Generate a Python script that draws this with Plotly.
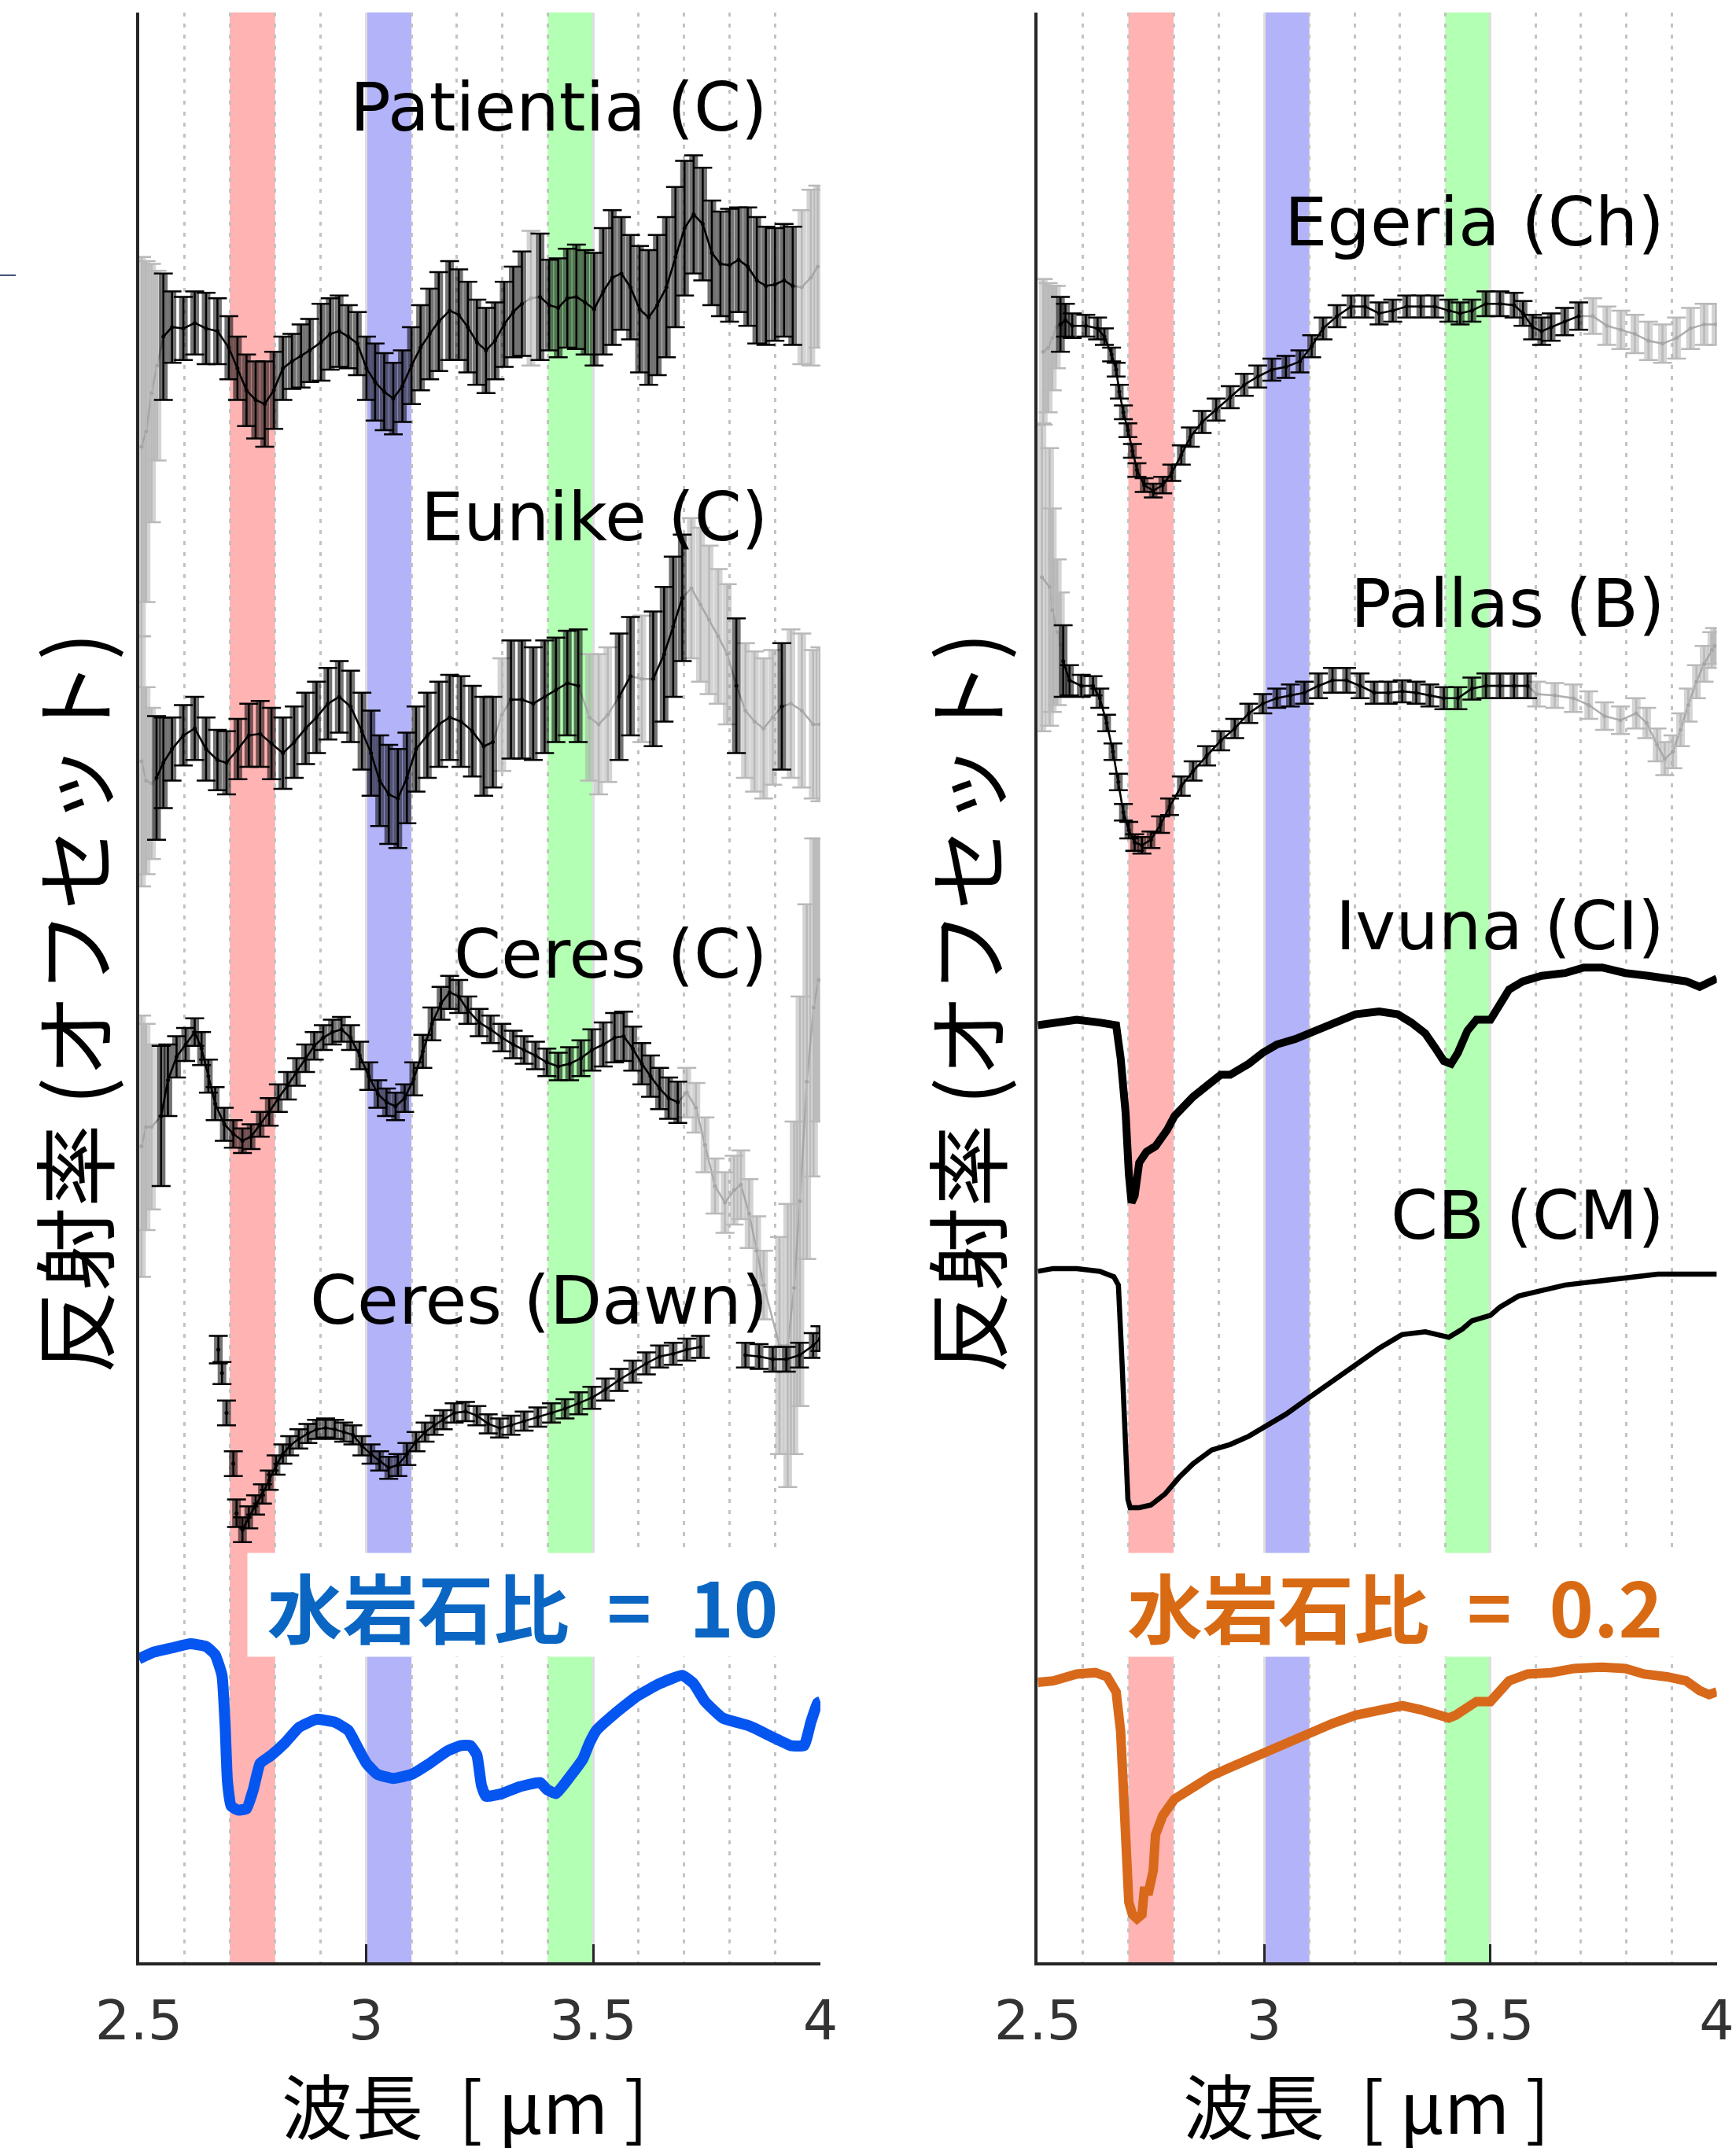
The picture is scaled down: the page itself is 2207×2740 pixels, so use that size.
import plotly.graph_objects as go

# ---------------- DATA (wavelength [um], offset reflectance [arb.], 1-sigma error, used flag 1/0) -------------
patientia_wl = [2.506, 2.516, 2.528, 2.540, 2.554, 2.573, 2.598, 2.623, 2.648, 2.673, 2.698, 2.717, 2.737, 2.757,
                2.777, 2.797, 2.817, 2.837, 2.857, 2.876, 2.901, 2.921, 2.941, 2.961, 2.981, 3.001, 3.020, 3.040,
                3.060, 3.080, 3.100, 3.120, 3.140, 3.160, 3.184, 3.204, 3.224, 3.244, 3.264, 3.284, 3.304, 3.324,
                3.343, 3.363, 3.383, 3.403, 3.423, 3.443, 3.463, 3.482, 3.502, 3.522, 3.542, 3.562, 3.582, 3.602,
                3.622, 3.641, 3.661, 3.681, 3.701, 3.721, 3.741, 3.761, 3.780, 3.800, 3.820, 3.840, 3.860, 3.880,
                3.900, 3.920, 3.939, 3.959, 3.979, 3.994]
patientia_val = [11.03, 11.14, 11.42, 11.62, 11.83, 11.90, 11.89, 11.93, 11.89, 11.87, 11.75, 11.60, 11.44, 11.37,
                 11.34, 11.44, 11.60, 11.65, 11.69, 11.73, 11.79, 11.85, 11.87, 11.83, 11.78, 11.60, 11.50, 11.43,
                 11.38, 11.47, 11.62, 11.75, 11.85, 11.94, 12.02, 11.99, 11.90, 11.79, 11.73, 11.80, 11.92, 12.01,
                 12.07, 12.11, 12.12, 12.06, 12.04, 12.11, 12.12, 12.08, 12.03, 12.16, 12.26, 12.29, 12.19, 12.03,
                 11.97, 12.06, 12.19, 12.41, 12.62, 12.72, 12.65, 12.44, 12.36, 12.35, 12.39, 12.34, 12.24, 12.20,
                 12.21, 12.24, 12.20, 12.19, 12.26, 12.34]
patientia_err = [1.38, 1.24, 0.94, 0.69, 0.46, 0.26, 0.23, 0.23, 0.26, 0.24, 0.23, 0.23, 0.26, 0.28,
                 0.31, 0.28, 0.23, 0.20, 0.23, 0.23, 0.28, 0.26, 0.26, 0.23, 0.23, 0.23, 0.28, 0.28,
                 0.26, 0.26, 0.28, 0.31, 0.33, 0.36, 0.36, 0.33, 0.33, 0.31, 0.31, 0.28, 0.31, 0.33,
                 0.38, 0.49, 0.46, 0.33, 0.36, 0.36, 0.38, 0.38, 0.41, 0.46, 0.49, 0.41, 0.38, 0.46,
                 0.49, 0.51, 0.51, 0.51, 0.49, 0.43, 0.41, 0.38, 0.38, 0.41, 0.38, 0.43, 0.46, 0.43,
                 0.41, 0.41, 0.43, 0.56, 0.64, 0.59]
patientia_ok = [0, 0, 0, 0, 1, 1, 1, 1, 1, 1, 1, 1, 1, 1, 1, 1, 1, 1, 1, 1, 1, 1, 1, 1, 1, 1, 1, 1, 1, 1, 1, 1, 1, 1,
                1, 1, 1, 1, 1, 1, 1, 1, 1, 0, 1, 1, 1, 1, 1, 1, 1, 1, 1, 1, 1, 1, 1, 1, 1, 1, 1, 1, 1, 1, 1, 1, 1, 1,
                1, 1, 1, 1, 1, 0, 0, 0]

eunike_wl = [2.506, 2.516, 2.528, 2.539, 2.554, 2.573, 2.598, 2.623, 2.648, 2.673, 2.693, 2.718, 2.742, 2.767,
             2.792, 2.817, 2.842, 2.867, 2.891, 2.916, 2.941, 2.966, 2.991, 3.011, 3.030, 3.050, 3.070, 3.090,
             3.110, 3.135, 3.160, 3.184, 3.209, 3.234, 3.259, 3.279, 3.299, 3.319, 3.343, 3.368, 3.393, 3.418,
             3.443, 3.467, 3.492, 3.512, 3.532, 3.557, 3.582, 3.607, 3.632, 3.656, 3.676, 3.696, 3.716, 3.736,
             3.755, 3.775, 3.795, 3.815, 3.835, 3.855, 3.875, 3.895, 3.915, 3.935, 3.959, 3.984, 3.999]
eunike_val = [8.74, 8.60, 8.58, 8.62, 8.73, 8.83, 8.93, 8.98, 8.83, 8.75, 8.73, 8.83, 8.93, 8.94,
              8.87, 8.80, 8.88, 8.98, 9.06, 9.16, 9.21, 9.14, 8.96, 8.80, 8.60, 8.50, 8.47, 8.62,
              8.83, 8.93, 9.01, 9.06, 9.03, 8.96, 8.85, 8.88, 9.08, 9.19, 9.19, 9.16, 9.21, 9.26,
              9.31, 9.29, 9.06, 9.01, 9.08, 9.21, 9.36, 9.34, 9.34, 9.52, 9.72, 9.93, 10.00, 9.88,
              9.77, 9.65, 9.52, 9.29, 9.11, 9.03, 8.98, 9.06, 9.14, 9.16, 9.11, 9.01, 9.01]
eunike_err = [0.91, 0.68, 0.55, 0.45, 0.33, 0.23, 0.22, 0.23, 0.23, 0.22, 0.23, 0.22, 0.23, 0.24,
              0.26, 0.26, 0.26, 0.26, 0.26, 0.26, 0.26, 0.26, 0.28, 0.31, 0.33, 0.36, 0.36, 0.33,
              0.31, 0.31, 0.31, 0.31, 0.33, 0.33, 0.36, 0.33, 0.41, 0.43, 0.43, 0.41, 0.41, 0.38,
              0.38, 0.41, 0.46, 0.51, 0.49, 0.46, 0.43, 0.46, 0.49, 0.49, 0.51, 0.46, 0.51, 0.56,
              0.54, 0.49, 0.51, 0.49, 0.49, 0.51, 0.51, 0.49, 0.46, 0.54, 0.56, 0.54, 0.56]
eunike_ok = [0, 0, 0, 1, 1, 1, 1, 1, 1, 1, 1, 1, 1, 1, 1, 1, 1, 1, 1, 1, 1, 1, 1, 1, 1, 1, 1, 1,
             1, 1, 1, 1, 1, 1, 1, 1, 0, 1, 1, 1, 1, 1, 1, 1, 0, 0, 0, 1, 1, 0, 1, 1, 1, 1, 0, 0,
             0, 0, 0, 1, 0, 0, 0, 0, 1, 0, 0, 0, 0]

ceres_wl = [2.506, 2.516, 2.528, 2.549, 2.564, 2.583, 2.603, 2.623, 2.638, 2.653, 2.668, 2.688, 2.708, 2.728,
            2.747, 2.767, 2.787, 2.807, 2.827, 2.847, 2.867, 2.886, 2.906, 2.926, 2.946, 2.966, 2.986, 3.006,
            3.026, 3.045, 3.065, 3.085, 3.105, 3.125, 3.145, 3.165, 3.184, 3.204, 3.224, 3.249, 3.274, 3.299,
            3.324, 3.348, 3.373, 3.398, 3.423, 3.448, 3.473, 3.497, 3.522, 3.547, 3.567, 3.587, 3.607, 3.626,
            3.646, 3.666, 3.686, 3.706, 3.726, 3.746, 3.768, 3.790, 3.810, 3.825, 3.843, 3.860, 3.875, 3.910,
            3.928, 3.942, 3.955, 3.970, 3.985, 3.996]
ceres_val = [5.94, 6.08, 6.08, 6.16, 6.42, 6.59, 6.68, 6.77, 6.65, 6.45, 6.25, 6.10, 6.03, 5.98,
             6.01, 6.10, 6.19, 6.29, 6.38, 6.48, 6.58, 6.67, 6.73, 6.77, 6.79, 6.73, 6.60, 6.45,
             6.32, 6.26, 6.23, 6.29, 6.43, 6.63, 6.83, 6.98, 7.06, 7.03, 6.93, 6.84, 6.79, 6.73,
             6.68, 6.64, 6.60, 6.55, 6.52, 6.54, 6.58, 6.64, 6.68, 6.73, 6.74, 6.65, 6.54, 6.45,
             6.36, 6.29, 6.26, 6.33, 6.22, 5.95, 5.65, 5.53, 5.62, 5.66, 5.45, 5.18, 4.93, 4.49,
             4.49, 4.91, 5.54, 6.41, 6.95, 7.15]
ceres_err = [0.95, 0.75, 0.60, 0.51, 0.26, 0.15, 0.12, 0.10, 0.12, 0.12, 0.12, 0.12, 0.10, 0.09,
             0.09, 0.09, 0.10, 0.10, 0.10, 0.10, 0.10, 0.10, 0.09, 0.09, 0.09, 0.09, 0.10, 0.10,
             0.10, 0.10, 0.10, 0.10, 0.12, 0.12, 0.12, 0.12, 0.12, 0.12, 0.10, 0.10, 0.10, 0.10,
             0.10, 0.10, 0.10, 0.10, 0.10, 0.12, 0.13, 0.15, 0.16, 0.18, 0.18, 0.16, 0.15, 0.15,
             0.15, 0.15, 0.15, 0.18, 0.18, 0.20, 0.20, 0.22, 0.25, 0.25, 0.25, 0.25, 0.25, 0.79,
             1.03, 1.21, 1.49, 1.29, 1.23, 1.03]
ceres_ok = [0, 0, 0, 1, 1, 1, 1, 1, 1, 1, 1, 1, 1, 1, 1, 1, 1, 1, 1, 1, 1, 1, 1, 1, 1, 1, 1, 1,
            1, 1, 1, 1, 1, 1, 1, 1, 1, 1, 1, 1, 1, 1, 1, 1, 1, 1, 1, 1, 1, 1, 1, 1, 1, 1, 1, 1,
            1, 1, 1, 0, 0, 0, 0, 0, 0, 0, 0, 0, 0, 0, 0, 0, 0, 0, 0, 0]

# Ceres (Dawn): isolated points at the band edge, then the continuous spectrum (None = data gap)
dawn_iso_wl = [2.675, 2.683, 2.693, 2.708, 2.715]
dawn_iso_val = [4.46, 4.29, 4.00, 3.63, 3.27]
dawn_iso_err = [0.10, 0.08, 0.09, 0.09, 0.10]
dawn_wl = [2.728, 2.742, 2.757, 2.772, 2.787, 2.802, 2.817, 2.832, 2.852, 2.872, 2.891, 2.911, 2.931, 2.951,
           2.971, 2.991, 3.011, 3.030, 3.050, 3.070, 3.090, 3.110, 3.130, 3.150, 3.170, 3.194, 3.219, 3.244,
           3.269, 3.294, 3.319, 3.348, 3.378, 3.408, 3.438, 3.468, 3.497, 3.527, 3.557, 3.587, 3.617, 3.646,
           3.676, 3.706, 3.736, 3.785, 3.835, 3.865, 3.895, 3.925, 3.954, 3.984, 3.999]
dawn_val = [3.15, 3.24, 3.33, 3.41, 3.51, 3.62, 3.70, 3.76, 3.81, 3.85, 3.88, 3.89, 3.88, 3.86,
            3.84, 3.76, 3.70, 3.65, 3.60, 3.62, 3.70, 3.79, 3.86, 3.91, 3.95, 4.00, 4.01, 3.98,
            3.92, 3.89, 3.91, 3.94, 3.97, 4.00, 4.03, 4.07, 4.11, 4.17, 4.24, 4.30, 4.36, 4.41,
            4.43, 4.46, 4.48, None, 4.42, 4.41, 4.39, 4.39, 4.42, 4.49, 4.54]
dawn_err = [0.09, 0.08, 0.07, 0.07, 0.07, 0.07, 0.07, 0.07, 0.07, 0.07, 0.07, 0.07, 0.07, 0.07,
            0.07, 0.07, 0.07, 0.07, 0.08, 0.08, 0.08, 0.07, 0.07, 0.07, 0.07, 0.07, 0.07, 0.07,
            0.07, 0.07, 0.07, 0.07, 0.07, 0.07, 0.07, 0.08, 0.08, 0.08, 0.08, 0.08, 0.08, 0.08,
            0.08, 0.08, 0.08, None, 0.09, 0.09, 0.09, 0.09, 0.09, 0.09, 0.09]

# model: water/rock ratio = 10 (left) and 0.2 (right)
wr10_wl = [2.500, 2.534, 2.573, 2.613, 2.648, 2.668, 2.683, 2.690, 2.695, 2.703, 2.718, 2.737, 2.752, 2.767,
           2.792, 2.822, 2.852, 2.891, 2.931, 2.961, 2.981, 3.001, 3.025, 3.060, 3.100, 3.140, 3.179, 3.209,
           3.229, 3.244, 3.254, 3.264, 3.299, 3.338, 3.383, 3.398, 3.418, 3.448, 3.477, 3.492, 3.507, 3.547,
           3.597, 3.646, 3.696, 3.721, 3.746, 3.785, 3.845, 3.895, 3.934, 3.964, 3.979, 3.994, 4.000]
wr10_val = [2.21, 2.26, 2.29, 2.32, 2.30, 2.24, 2.09, 1.72, 1.32, 1.14, 1.11, 1.12, 1.26, 1.45,
            1.51, 1.60, 1.71, 1.77, 1.75, 1.69, 1.57, 1.45, 1.37, 1.34, 1.37, 1.45, 1.54, 1.58,
            1.58, 1.51, 1.29, 1.21, 1.23, 1.28, 1.31, 1.26, 1.23, 1.35, 1.48, 1.60, 1.69, 1.81,
            1.94, 2.03, 2.09, 2.03, 1.90, 1.78, 1.72, 1.64, 1.58, 1.58, 1.75, 1.89, 1.90]

# ---------------- Right panel ----------------
egeria_wl = [2.512, 2.523, 2.532, 2.541, 2.550, 2.561, 2.576, 2.606, 2.632, 2.647, 2.663, 2.673, 2.680, 2.689,
             2.699, 2.709, 2.719, 2.735, 2.755, 2.776, 2.796, 2.817, 2.837, 2.863, 2.894, 2.925, 2.956, 2.986,
             3.017, 3.048, 3.079, 3.105, 3.130, 3.161, 3.192, 3.223, 3.254, 3.284, 3.315, 3.346, 3.377, 3.408,
             3.433, 3.459, 3.490, 3.521, 3.552, 3.572, 3.593, 3.613, 3.634, 3.664, 3.695, 3.726, 3.757, 3.788,
             3.819, 3.849, 3.880, 3.911, 3.942, 3.972, 3.998]
egeria_val = [11.72, 11.75, 11.82, 11.90, 11.92, 11.95, 11.91, 11.91, 11.89, 11.83, 11.70, 11.59, 11.43, 11.28,
              11.15, 11.00, 10.86, 10.75, 10.71, 10.75, 10.84, 10.97, 11.10, 11.21, 11.30, 11.39, 11.48, 11.54,
              11.59, 11.61, 11.65, 11.76, 11.89, 11.98, 12.05, 12.05, 12.00, 12.02, 12.05, 12.05, 12.05, 12.02,
              12.00, 12.02, 12.07, 12.07, 12.06, 12.00, 11.90, 11.87, 11.90, 11.94, 11.98, 11.98, 11.91, 11.88,
              11.85, 11.80, 11.78, 11.82, 11.89, 11.92, 11.92]
egeria_err = [0.53, 0.47, 0.38, 0.30, 0.20, 0.12, 0.09, 0.08, 0.08, 0.06, 0.05, 0.05, 0.05, 0.05,
              0.05, 0.05, 0.05, 0.05, 0.05, 0.06, 0.06, 0.07, 0.07, 0.08, 0.08, 0.08, 0.08, 0.08,
              0.08, 0.08, 0.08, 0.08, 0.08, 0.08, 0.08, 0.08, 0.08, 0.08, 0.08, 0.08, 0.08, 0.08,
              0.08, 0.08, 0.09, 0.09, 0.09, 0.09, 0.09, 0.10, 0.10, 0.10, 0.10, 0.13, 0.14, 0.14,
              0.14, 0.14, 0.14, 0.15, 0.15, 0.15, 0.15]
egeria_ok = [0, 0, 0, 0, 1, 1, 1, 1, 1, 1, 1, 1, 1, 1, 1, 1, 1, 1, 1, 1, 1, 1, 1, 1, 1, 1, 1, 1,
             1, 1, 1, 1, 1, 1, 1, 1, 1, 1, 1, 1, 1, 1, 1, 1, 1, 1, 1, 1, 1, 1, 1, 1, 1, 0, 0, 0,
             0, 0, 0, 0, 0, 0, 0]

pallas_wl = [2.509, 2.526, 2.532, 2.543, 2.550, 2.556, 2.570, 2.596, 2.622, 2.637, 2.652, 2.666, 2.678, 2.689,
             2.701, 2.714, 2.730, 2.750, 2.771, 2.791, 2.817, 2.843, 2.873, 2.904, 2.935, 2.966, 2.997, 3.028,
             3.058, 3.089, 3.120, 3.151, 3.182, 3.212, 3.243, 3.274, 3.305, 3.336, 3.366, 3.397, 3.428, 3.459,
             3.490, 3.521, 3.552, 3.582, 3.602, 3.642, 3.683, 3.717, 3.752, 3.787, 3.822, 3.845, 3.868, 3.885,
             3.903, 3.920, 3.937, 3.955, 3.972, 3.989, 3.995]
pallas_val = [10.08, 10.01, 9.84, 9.68, 9.59, 9.47, 9.33, 9.29, 9.29, 9.20, 9.02, 8.81, 8.59, 8.37,
              8.24, 8.15, 8.13, 8.17, 8.28, 8.41, 8.56, 8.67, 8.78, 8.89, 8.98, 9.09, 9.16, 9.20,
              9.22, 9.24, 9.29, 9.33, 9.33, 9.29, 9.24, 9.24, 9.25, 9.24, 9.22, 9.20, 9.20, 9.27,
              9.29, 9.29, 9.29, 9.29, 9.23, 9.22, 9.20, 9.15, 9.07, 9.04, 9.09, 9.02, 8.86, 8.76,
              8.81, 8.97, 9.15, 9.32, 9.45, 9.55, 9.58]
pallas_err = [1.12, 1.01, 0.74, 0.53, 0.38, 0.26, 0.11, 0.08, 0.07, 0.07, 0.06, 0.06, 0.06, 0.06,
              0.06, 0.06, 0.06, 0.06, 0.06, 0.06, 0.07, 0.07, 0.07, 0.07, 0.07, 0.07, 0.07, 0.07,
              0.08, 0.08, 0.09, 0.09, 0.09, 0.09, 0.08, 0.08, 0.08, 0.08, 0.08, 0.08, 0.08, 0.08,
              0.09, 0.09, 0.09, 0.09, 0.09, 0.09, 0.10, 0.10, 0.10, 0.10, 0.11, 0.11, 0.12, 0.12,
              0.12, 0.12, 0.12, 0.12, 0.13, 0.13, 0.13]
pallas_ok = [0, 0, 0, 0, 0, 1, 1, 1, 1, 1, 1, 1, 1, 1, 1, 1, 1, 1, 1, 1, 1, 1, 1, 1, 1, 1, 1, 1,
             1, 1, 1, 1, 1, 1, 1, 1, 1, 1, 1, 1, 1, 1, 1, 1, 1, 1, 0, 0, 0, 0, 0, 0, 0, 0, 0, 0,
             0, 0, 0, 0, 0, 0, 0]

ivuna_wl = [2.500, 2.534, 2.586, 2.637, 2.673, 2.683, 2.694, 2.701, 2.707, 2.714, 2.724, 2.740, 2.760, 2.786,
            2.802, 2.843, 2.884, 2.904, 2.925, 2.966, 2.997, 3.028, 3.069, 3.099, 3.151, 3.202, 3.254, 3.295,
            3.325, 3.356, 3.377, 3.397, 3.413, 3.428, 3.449, 3.469, 3.500, 3.521, 3.541, 3.572, 3.613, 3.665,
            3.706, 3.747, 3.798, 3.849, 3.890, 3.932, 3.962, 3.983, 4.000]
ivuna_val = [6.82, 6.84, 6.86, 6.84, 6.82, 6.58, 6.18, 5.74, 5.53, 5.58, 5.82, 5.90, 5.94, 6.06,
             6.16, 6.30, 6.40, 6.46, 6.46, 6.54, 6.62, 6.68, 6.72, 6.76, 6.84, 6.90, 6.92, 6.90,
             6.84, 6.76, 6.66, 6.56, 6.54, 6.62, 6.78, 6.86, 6.86, 6.98, 7.08, 7.14, 7.18, 7.20,
             7.24, 7.24, 7.20, 7.18, 7.16, 7.14, 7.10, 7.14, 7.16]

cb_wl = [2.500, 2.534, 2.586, 2.637, 2.668, 2.678, 2.686, 2.694, 2.699, 2.704, 2.724, 2.750, 2.781, 2.812,
         2.843, 2.884, 2.925, 2.966, 2.997, 3.048, 3.099, 3.151, 3.202, 3.254, 3.305, 3.356, 3.408, 3.438,
         3.459, 3.500, 3.521, 3.562, 3.613, 3.665, 3.716, 3.767, 3.818, 3.870, 3.921, 3.972, 4.000]
cb_val = [5.03, 5.05, 5.05, 5.03, 4.99, 4.93, 4.37, 3.77, 3.37, 3.31, 3.31, 3.33, 3.41, 3.53,
          3.63, 3.73, 3.77, 3.83, 3.89, 3.99, 4.11, 4.23, 4.35, 4.47, 4.57, 4.59, 4.55, 4.61,
          4.67, 4.71, 4.77, 4.85, 4.89, 4.93, 4.95, 4.97, 4.99, 5.01, 5.01, 5.01, 5.01]

wr02_wl = [2.500, 2.534, 2.586, 2.627, 2.653, 2.673, 2.683, 2.689, 2.694, 2.701, 2.709, 2.719, 2.730, 2.735,
           2.745, 2.755, 2.760, 2.776, 2.802, 2.843, 2.884, 2.925, 2.966, 3.007, 3.048, 3.099, 3.151, 3.202,
           3.254, 3.305, 3.346, 3.377, 3.408, 3.423, 3.444, 3.469, 3.500, 3.521, 3.541, 3.582, 3.634, 3.685,
           3.747, 3.798, 3.839, 3.890, 3.932, 3.962, 3.983, 4.000]
wr02_val = [2.04, 2.05, 2.10, 2.11, 2.08, 1.97, 1.68, 1.25, 0.67, 0.44, 0.35, 0.32, 0.35, 0.52,
            0.52, 0.67, 0.93, 1.07, 1.19, 1.28, 1.36, 1.42, 1.48, 1.54, 1.59, 1.66, 1.74, 1.80,
            1.84, 1.87, 1.84, 1.81, 1.78, 1.80, 1.85, 1.90, 1.90, 1.98, 2.05, 2.10, 2.11, 2.14,
            2.15, 2.14, 2.10, 2.08, 2.05, 1.98, 1.95, 1.97]

band_edges = [(2.7, 2.8), (3.0, 3.1), (3.4, 3.5)]
band_colors = ["rgb(255,179,179)", "rgb(179,179,250)", "rgb(179,255,179)"]
tick_vals = [2.5, 3.0, 3.5, 4.0]
tick_text = ["2.5", "3", "3.5", "4"]

left_labels = ["Patientia (C)", "Eunike (C)", "Ceres (C)", "Ceres (Dawn)"]
left_label_y = [13.50, 10.52, 7.34, 4.82]
right_labels = ["Egeria (Ch)", "Pallas (B)", "Ivuna (CI)", "CB (CM)"]
right_label_y = [12.665, 9.89, 7.545, 5.44]

# ---------------- FIGURE ----------------
W, H = 2207, 2740
fig = go.Figure()

BAR_BLACK = "rgba(0,0,0,0.55)"
BAR_GRAY = "rgba(160,160,160,0.45)"


def add_points(x, y, e, xa, ya, black, thick=11):
    fill_c = BAR_BLACK if black else BAR_GRAY
    cap_c = "rgb(0,0,0)" if black else "rgb(185,185,185)"
    mk_c = "black" if black else "rgb(165,165,165)"
    fig.add_trace(go.Scatter(x=x, y=y, mode="markers", xaxis=xa, yaxis=ya,
                             marker=dict(size=1, color="rgba(0,0,0,0)"),
                             error_y=dict(type="data", array=e, color=fill_c, thickness=thick, width=0),
                             showlegend=False, hoverinfo="skip"))
    fig.add_trace(go.Scatter(x=x, y=y, mode="markers", xaxis=xa, yaxis=ya,
                             marker=dict(size=5, color=mk_c),
                             error_y=dict(type="data", array=e, color=cap_c, thickness=2.5, width=12),
                             showlegend=False, hoverinfo="skip"))


def add_spectrum(wl, val, err, ok, xa, ya):
    n = len(wl)
    gi = [i for i in range(n) if not ok[i]]
    bi = [i for i in range(n) if ok[i]]
    fig.add_trace(go.Scatter(x=wl, y=val, mode="lines", xaxis=xa, yaxis=ya,
                             line=dict(color="rgb(175,175,175)", width=2.5),
                             showlegend=False, hoverinfo="skip"))
    add_points([wl[i] for i in gi], [val[i] for i in gi], [err[i] for i in gi], xa, ya, False)
    add_points([wl[i] for i in bi], [val[i] for i in bi], [err[i] for i in bi], xa, ya, True)
    fig.add_trace(go.Scatter(x=wl, y=[val[i] if ok[i] else None for i in range(n)], mode="lines",
                             xaxis=xa, yaxis=ya, connectgaps=False,
                             line=dict(color="black", width=2.5), showlegend=False, hoverinfo="skip"))


# left panel
add_spectrum(patientia_wl, patientia_val, patientia_err, patientia_ok, "x", "y")
add_spectrum(eunike_wl, eunike_val, eunike_err, eunike_ok, "x", "y")
add_spectrum(ceres_wl, ceres_val, ceres_err, ceres_ok, "x", "y")
add_points(dawn_iso_wl, dawn_iso_val, dawn_iso_err, "x", "y", True)
add_points(dawn_wl, dawn_val, dawn_err, "x", "y", True)
fig.add_trace(go.Scatter(x=dawn_wl, y=dawn_val, mode="lines", xaxis="x", yaxis="y", connectgaps=False,
                         line=dict(color="black", width=2.5), showlegend=False, hoverinfo="skip"))
fig.add_trace(go.Scatter(x=wr10_wl, y=wr10_val, mode="lines", xaxis="x", yaxis="y",
                         line=dict(color="rgb(5,85,240)", width=14, shape="spline", smoothing=0.4),
                         showlegend=False, hoverinfo="skip"))

# right panel
add_spectrum(egeria_wl, egeria_val, egeria_err, egeria_ok, "x2", "y2")
add_spectrum(pallas_wl, pallas_val, pallas_err, pallas_ok, "x2", "y2")
fig.add_trace(go.Scatter(x=ivuna_wl, y=ivuna_val, mode="lines", xaxis="x2", yaxis="y2",
                         line=dict(color="black", width=10), showlegend=False, hoverinfo="skip"))
fig.add_trace(go.Scatter(x=cb_wl, y=cb_val, mode="lines", xaxis="x2", yaxis="y2",
                         line=dict(color="black", width=6.5), showlegend=False, hoverinfo="skip"))
fig.add_trace(go.Scatter(x=wr02_wl, y=wr02_val, mode="lines", xaxis="x2", yaxis="y2",
                         line=dict(color="rgb(216,105,26)", width=12), showlegend=False, hoverinfo="skip"))

# bands
shapes = []
for xr in ("x", "x2"):
    yr = "y domain" if xr == "x" else "y2 domain"
    for (a, b), c in zip(band_edges, band_colors):
        shapes.append(dict(type="rect", xref=xr, yref=yr, x0=a, x1=b, y0=0, y1=1,
                           fillcolor=c, line=dict(width=0), layer="below"))
# small stray mark at top-left of the original
shapes.append(dict(type="line", xref="paper", yref="paper", x0=0, x1=20 / W, y0=1 - 350 / H, y1=1 - 350 / H,
                   line=dict(color="rgb(70,80,120)", width=2)))

AX = "#262626"
ax_common = dict(range=[2.5, 4.0], tickmode="array", tickvals=tick_vals, ticktext=tick_text,
                 ticks="inside", ticklen=24, tickwidth=3, tickcolor=AX,
                 showline=True, linecolor=AX, linewidth=3.5, mirror=False, automargin=False,
                 showgrid=True, gridcolor="rgb(222,222,222)", gridwidth=3, zeroline=False,
                 minor=dict(dtick=0.1, tick0=2.5, showgrid=True, gridcolor="rgb(195,195,195)",
                            gridwidth=2.5, griddash="5px,9px", ticks=""),
                 tickfont=dict(family="DejaVu Sans", size=70, color="#333333"),
                 ticklabelstandoff=10)
ay_common = dict(range=[0, 14.19], showline=True, linecolor=AX, linewidth=3.5, showticklabels=False,
                 ticks="", showgrid=False, zeroline=False, automargin=False)

y_dom = [1 - 2495.4 / H, 1 - 15.7 / H]

annotations = []
for t, yv in zip(left_labels, left_label_y):
    annotations.append(dict(text=t, x=3.888, y=yv, xref="x", yref="y", xanchor="right", yanchor="middle",
                            showarrow=False, font=dict(family="DejaVu Sans", size=86, color="black")))
for t, yv in zip(right_labels, right_label_y):
    annotations.append(dict(text=t, x=3.888, y=yv, xref="x2", yref="y2", xanchor="right", yanchor="middle",
                            showarrow=False, font=dict(family="DejaVu Sans", size=86, color="black")))
annotations.append(dict(text="<b>水岩石比\u2002=\u200210</b>", x=3.344, y=2.605, xref="x", yref="y",
                        xanchor="center", yanchor="middle", showarrow=False, width=699, height=131,
                        bgcolor="white", borderpad=0,
                        font=dict(family="Noto Sans CJK JP", size=96, color="rgb(10,102,194)")))
annotations.append(dict(text="<b>水岩石比\u2002=\u20020.2</b>", x=3.289, y=2.605, xref="x2", yref="y2",
                        xanchor="center", yanchor="middle", showarrow=False, width=723, height=131,
                        bgcolor="white", borderpad=0,
                        font=dict(family="Noto Sans CJK JP", size=96, color="rgb(217,106,20)")))
for xc in (590.7 / W, 1737 / W):
    annotations.append(dict(text="波長\u2002[ μm ]", x=xc, y=1 - 2674 / H, xref="paper", yref="paper",
                            xanchor="center", yanchor="middle", showarrow=False,
                            font=dict(family="Noto Sans CJK JP", size=90, color="black")))
for xc in (90 / W, 1225 / W):
    annotations.append(dict(text="反射率 (オフセット)", x=xc, y=1 - 1276 / H, xref="paper", yref="paper",
                            xanchor="center", yanchor="middle", showarrow=False, textangle=-90,
                            font=dict(family="Noto Sans CJK JP", size=106, color="black")))

fig.update_layout(
    width=W, height=H, autosize=False,
    margin=dict(l=0, r=0, t=0, b=0, pad=0, autoexpand=False),
    paper_bgcolor="white", plot_bgcolor="white",
    showlegend=False,
    xaxis=dict(domain=[176.5 / W, 1043 / W], anchor="y", **ax_common),
    yaxis=dict(domain=y_dom, anchor="x", **ay_common),
    xaxis2=dict(domain=[1319.4 / W, 2182.6 / W], anchor="y2", **ax_common),
    yaxis2=dict(domain=y_dom, anchor="x2", **ay_common),
    shapes=shapes,
    annotations=annotations,
)

fig.write_html("out.html")
